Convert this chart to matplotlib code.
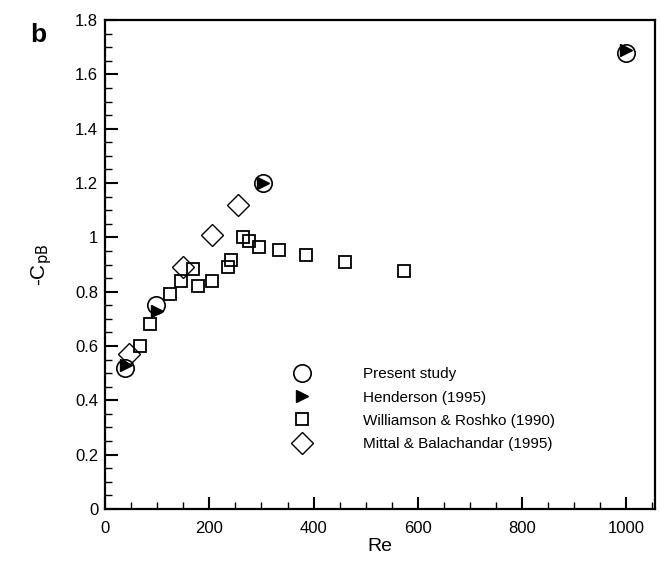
import matplotlib.pyplot as plt
from matplotlib.ticker import MultipleLocator, FuncFormatter

plt.rcParams['font.family'] = ['Liberation Sans', 'DejaVu Sans']

# Present study
re_present = [38, 98, 302, 1000]
cp_present = [0.52, 0.75, 1.20, 1.68]

# Henderson (1995)
re_hend = [40, 100, 302, 1000]
cp_hend = [0.53, 0.73, 1.20, 1.69]

# Williamson & Roshko (1990)
re_wr = [67, 87, 125, 146, 169, 179, 206, 235, 241, 264, 277, 296, 333, 386, 461, 573]
cp_wr = [0.60, 0.68, 0.79, 0.84, 0.885, 0.82, 0.84, 0.89, 0.915, 1.00, 0.985, 0.965,
         0.955, 0.935, 0.91, 0.877]

# Mittal & Balachandar (1995)
re_mb = [45, 150, 205, 255]
cp_mb = [0.57, 0.89, 1.01, 1.12]

fig = plt.figure(figsize=(6.61, 5.61), dpi=100)
ax = fig.add_axes([0.159, 0.093, 0.832, 0.871])

ax.plot(re_present, cp_present, 'o', ms=12.5, mfc='none', mec='black', mew=1.2,
        label='Present study')
ax.plot(re_hend, cp_hend, '>', ms=8, color='black', label='Henderson (1995)')
ax.plot(re_wr, cp_wr, 's', ms=9, mfc='none', mec='black', mew=1.3,
        label='Williamson & Roshko (1990)')
ax.plot(re_mb, cp_mb, 'D', ms=11, mfc='none', mec='black', mew=1.0,
        label='Mittal & Balachandar (1995)')

ax.set_xlim(0, 1055)
ax.set_ylim(0, 1.8)
ax.xaxis.set_major_locator(MultipleLocator(200))
ax.xaxis.set_minor_locator(MultipleLocator(50))
ax.yaxis.set_major_locator(MultipleLocator(0.2))
ax.yaxis.set_minor_locator(MultipleLocator(0.05))
ax.yaxis.set_major_formatter(FuncFormatter(lambda v, p: f'{v:g}'))
ax.tick_params(which='both', direction='in', top=False, right=False, labelsize=12)
ax.tick_params(which='major', length=9, width=1.5)
ax.tick_params(which='minor', length=5, width=1)
ax.tick_params(axis='x', which='major', pad=8.5)
ax.tick_params(axis='y', which='major', pad=5)
for s in ax.spines.values():
    s.set_linewidth(1.6)

ax.set_xlabel('Re', fontsize=14, labelpad=2)
ax.set_ylabel('-C$_{\\mathrm{pB}}$', fontsize=15, labelpad=15)
fig.text(0.045, 0.925, 'b', fontsize=19, fontweight='bold')

ax.legend(loc='upper left', bbox_to_anchor=(0.33, 0.305), frameon=False,
          fontsize=11, handlelength=1, handletextpad=3.5, labelspacing=0.6,
          borderpad=0)

fig.savefig('out.png', dpi=100)
